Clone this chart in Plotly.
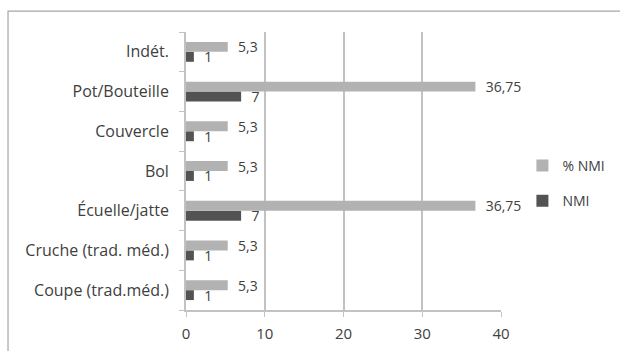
import plotly.graph_objects as go

# categories, bottom to top as drawn
categories = [
    'Coupe (trad.méd.)',
    'Cruche (trad. méd.)',
    'Écuelle/jatte',
    'Bol',
    'Couvercle',
    'Pot/Bouteille',
    'Indét.',
]
pct_nmi = [5.3, 5.3, 36.75, 5.3, 5.3, 36.75, 5.3]
nmi = [1, 1, 7, 1, 1, 7, 1]
x_ticks = [0, 10, 20, 30, 40]

TEXT_COLOR = '#404040'
GRID_COLOR = '#c2c2c2'


def fr_label(v):
    return '  ' + f'{v:g}'.replace('.', ',')


def make_bar(values, name, color, rank):
    return go.Bar(
        y=categories,
        x=values,
        orientation='h',
        name=name,
        legendgroup=name,
        legendrank=rank,
        marker=dict(color=color, line=dict(width=0)),
        text=[fr_label(v) for v in values],
        textposition='outside',
        constraintext='none',
        cliponaxis=False,
        textfont=dict(color=TEXT_COLOR, size=14),
        outsidetextfont=dict(color=TEXT_COLOR, size=14),
    )


def plot():
    fig = go.Figure()

    fig.add_trace(make_bar(nmi, 'NMI', '#535353', 2))
    fig.add_trace(make_bar(pct_nmi, '% NMI', '#b2b2b2', 1))

    fig.update_layout(
        width=620,
        height=351,
        margin=dict(l=186, r=119, t=32, b=41, autoexpand=False),
        paper_bgcolor='white',
        plot_bgcolor='white',
        font=dict(family='Open Sans, sans-serif', size=14, color=TEXT_COLOR),
        barmode='group',
        bargap=0.5,
        bargroupgap=0,
        showlegend=True,
        legend=dict(
            x=1.068, y=0.455, xanchor='left', yanchor='middle',
            traceorder='grouped',
            tracegroupgap=14,
            font=dict(size=14),
            itemwidth=30,
        ),
        # chart frame: only its top and left edges fall inside the picture
        shapes=[dict(
            type='rect', xref='paper', yref='paper',
            x0=-0.565, x1=1.6, y0=-0.35, y1=1.075,
            line=dict(color='#a6a6a6', width=1.2),
        )],
    )

    fig.update_xaxes(
        range=[0, 40],
        tickvals=x_ticks,
        automargin=False,
        showgrid=True, gridcolor=GRID_COLOR, gridwidth=1.8,
        zeroline=False,
        showline=True, linecolor=GRID_COLOR, linewidth=1.8,
        ticks='outside', ticklen=5, tickcolor=GRID_COLOR,
        ticklabelstandoff=4,
        tickfont=dict(size=15),
    )
    fig.update_yaxes(
        type='category',
        categoryorder='array', categoryarray=categories,
        automargin=False,
        showgrid=False,
        showline=True, linecolor=GRID_COLOR, linewidth=1.8,
        ticks='outside', ticklen=5, tickcolor=GRID_COLOR,
        tickson='boundaries',
        ticklabelstandoff=12,
        tickfont=dict(size=16),
    )

    # drop the default page margin so the canvas sits at the window corner
    fig.write_html(
        'out.html',
        config={'displayModeBar': False},
        post_script="document.body.style.margin='0';",
    )


if __name__ == '__main__':
    plot()
